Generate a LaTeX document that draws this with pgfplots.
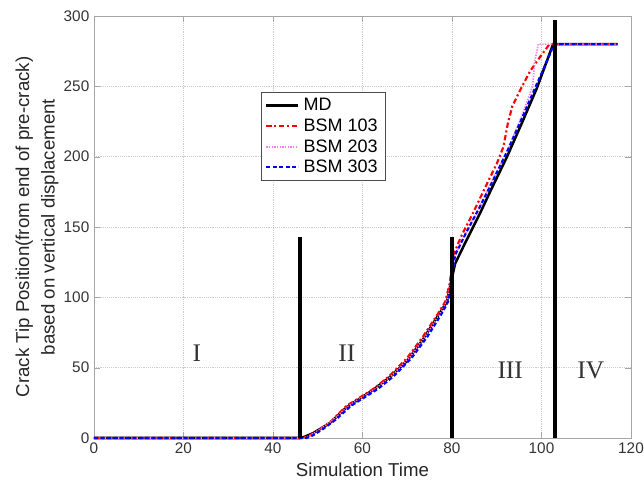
\documentclass[border=0pt]{standalone}
\usepackage{pgfplots}
\pgfplotsset{compat=1.18}
\usepackage{fontspec}
\setmainfont{Liberation Sans}
\newfontfamily\romfont{Liberation Serif}
\definecolor{pinkish}{RGB}{240,130,240}
\begin{document}
\begin{tikzpicture}[x=1pt,y=1pt]
\begin{axis}[
  scale only axis,
  width=402.75pt, height=316.5pt,
  xmin=0, xmax=120, ymin=0, ymax=300,
  xtick={0,20,...,120}, ytick={0,50,...,300},
  grid=major,
  major grid style={densely dotted, gray!40},
  axis line style={gray!70},
  tick style={gray!70},
  tick align=inside,
  /pgf/number format/assume math mode=true,
  ticklabel style={font=\fontsize{11.5}{13}\selectfont, text=black!80},
  xlabel={Simulation Time},
  ylabel={Crack Tip Position(from end of pre-crack)\\based on vertical displacement},
  label style={font=\fontsize{14}{19}\selectfont, text=black!85},
  ylabel style={align=center, at={(axis description cs:-0.106,0.5)}, anchor=center},
  xlabel style={at={(axis description cs:0.5,-0.075)}, anchor=center},
  legend style={at={(axis cs:37.3,246)}, anchor=north west, draw=black!70,
    font=\fontsize{13.5}{14}\selectfont, row sep=0.6pt, inner xsep=3pt, inner ysep=2.5pt,
    nodes={inner xsep=3pt}},
  legend cell align=left,
  legend image code/.code={\draw[#1] (0pt,0pt) -- (24pt,0pt);},
  clip=false,
]
\addplot[black, line width=1.9pt] coordinates {
(0,0) (46,0) (47,0.8) (49,3.5) (52.7,10.6) (56.5,22) (59.4,28) (62.3,34) (66,43) (70,55) (73.5,70) (77.3,89) (78.9,97) (80,114) (80.7,124) (83.3,141) (86.3,160) (88.5,175) (92.3,200) (95.9,226) (99,249) (101.2,268) (102.6,280) (117,280)};
\addlegendentry{MD}
\addplot[red, line width=1.6pt, dash pattern=on 4pt off 2pt on 1.5pt off 2pt] coordinates {
(0,0) (46.5,0) (48,1.5) (50,5) (53,12) (56.5,23) (59.5,29) (62.5,35) (66,44) (70,57) (73.5,72) (77,89) (78.5,97) (79.5,110) (80.3,130) (82,143) (84.7,160) (88,182) (90,195) (91.5,207) (92.5,224) (93.5,236) (95.5,249) (97.5,261) (99.7,271) (101.8,280) (117,280)};
\addlegendentry{BSM 103}
\addplot[pinkish, line width=1.3pt, dash pattern=on 1pt off 1pt] coordinates {
(0,0) (47,0) (48.5,2) (50.5,6) (53.5,13) (57,23) (60,29) (63,35) (66.5,44) (70.5,57) (74,72) (77.5,89) (79,98) (80,115) (80.7,130) (83,145) (86,163) (89,183) (92.5,205) (95.5,228) (98,250) (98.5,268) (99.3,280) (117,280)};
\addlegendentry{BSM 203}
\addplot[blue, line width=1.6pt, dash pattern=on 3pt off 1.8pt] coordinates {
(0,0) (47.5,0) (49,2) (51,6) (54,13) (57.5,23) (60.5,29) (63.5,35) (67,44) (71,57) (74.5,72) (78,90) (79.3,98) (80,116) (80.7,130) (83,145) (86,163) (89,182) (92.5,205) (96,230) (99,252) (101.5,270) (102.8,280) (117,280)};
\addlegendentry{BSM 303}
\addplot[black, line width=2.6pt, forget plot] coordinates {(46,0) (46,143)};
\addplot[black, line width=2.6pt, forget plot] coordinates {(80,0) (80,143)};
\addplot[black, line width=2.6pt, forget plot] coordinates {(103,0) (103,297)};
\node[font=\romfont\fontsize{19}{20}\selectfont, text=black!80] at (axis cs:23,60) {I};
\node[font=\romfont\fontsize{19}{20}\selectfont, text=black!80] at (axis cs:56.5,60) {II};
\node[font=\romfont\fontsize{19}{20}\selectfont, text=black!80] at (axis cs:93,48) {III};
\node[font=\romfont\fontsize{19}{20}\selectfont, text=black!80] at (axis cs:111,48) {IV};
\end{axis}
\pgfresetboundingbox
\useasboundingbox (current axis.south west) ++(-70.5pt,-33.75pt) rectangle ([xshift=9.75pt,yshift=12pt]current axis.north east);
\end{tikzpicture}
\end{document}
